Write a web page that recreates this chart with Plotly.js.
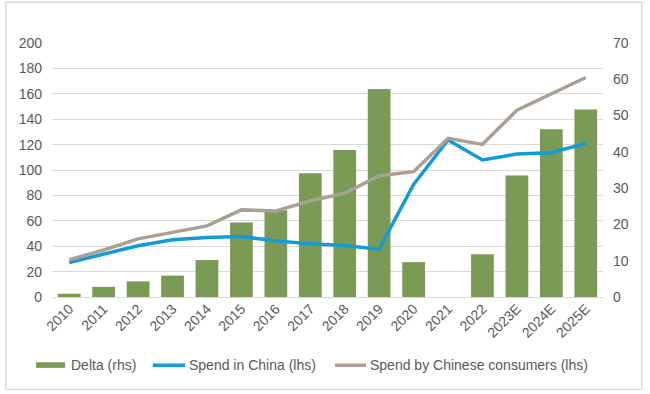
<!DOCTYPE html>
<html>
<head>
<meta charset="utf-8">
<script src="https://cdn.plot.ly/plotly-3.0.1.min.js"></script>
<style>html,body{margin:0;padding:0;background:#fff;}#chart{width:650px;height:394px;}</style>
</head>
<body>
<div id="chart"></div>
<script>
const years = ["2010","2011","2012","2013","2014","2015","2016","2017","2018","2019","2020","2021","2022","2023E","2024E","2025E"];
const delta = [0.9, 2.8, 4.3, 5.9, 10.2, 20.5, 23.9, 34.1, 40.5, 57.3, 9.6, 0, 11.8, 33.5, 46.2, 51.7];
const spendInChina = [27.2, 33.8, 40.3, 45.0, 46.9, 47.6, 44.2, 41.9, 40.5, 37.7, 88.7, 123.6, 107.9, 112.6, 113.6, 121.0];
const spendByChinese = [29.3, 37.0, 45.8, 50.8, 56.0, 68.6, 67.8, 75.7, 81.7, 95.5, 98.7, 124.9, 120.2, 147.1, 160.2, 172.8];
const seriesNames = ["Delta (rhs)", "Spend in China (lhs)", "Spend by Chinese consumers (lhs)"];
const colors = ["#7a9a56", "#129bd8", "#aaa095"];

const font = {family: "Liberation Sans, Arial, sans-serif", size: 14, color: "#595959"};

// bars on the base (right-hand) axis, lines on the overlaying (left-hand) axis so they draw on top
const data = [
  {type: "bar", name: seriesNames[0], x: years, y: delta, yaxis: "y",
   marker: {color: colors[0], line: {width: 0}}, showlegend: false},
  {type: "scatter", mode: "lines", name: seriesNames[1], x: years, y: spendInChina, yaxis: "y2",
   line: {color: colors[1], width: 3.5}, showlegend: false},
  {type: "scatter", mode: "lines", name: seriesNames[2], x: years, y: spendByChinese, yaxis: "y2",
   line: {color: colors[2], width: 3.5}, showlegend: false}
];

// custom legend (paper coords)
const legY = -0.2687;
const legendShapes = [
  {type: "rect", xref: "paper", yref: "paper", x0: -0.029, x1: 0.0236, y0: -0.279, y1: -0.257,
   fillcolor: colors[0], line: {width: 0}},
  {type: "line", xref: "paper", yref: "paper", x0: 0.1828, x1: 0.2414, y0: legY, y1: legY,
   line: {color: colors[1], width: 3.5}},
  {type: "line", xref: "paper", yref: "paper", x0: 0.5136, x1: 0.5699, y0: legY, y1: legY,
   line: {color: colors[2], width: 3.5}}
];
const legX = [0.0309, 0.245, 0.5735];
const legendAnnotations = seriesNames.map((n, i) => ({
  xref: "paper", yref: "paper", x: legX[i], y: legY, xanchor: "left", yanchor: "middle",
  text: n, showarrow: false, font: font
}));

const layout = {
  width: 650, height: 394, autosize: false,
  margin: {l: 52, r: 47, t: 43, b: 97},
  paper_bgcolor: "#fff", plot_bgcolor: "#fff",
  font: font,
  bargap: 0.34,
  showlegend: false,
  xaxis: {type: "category", tickangle: -45, showgrid: false, zeroline: false,
          showline: false, ticks: "", tickfont: font, automargin: false},
  yaxis: {range: [0, 70], dtick: 10, side: "right", showgrid: false,
          zeroline: false, showline: false, ticks: "", tickfont: font, automargin: false,
          ticklabelstandoff: 9},
  yaxis2: {range: [0, 200], dtick: 20, overlaying: "y", side: "left", showgrid: true,
           gridcolor: "#d9d9d9", gridwidth: 1, zeroline: true, zerolinecolor: "#d9d9d9",
           showline: false, ticks: "", tickfont: font, automargin: false,
           ticklabelstandoff: 9},
  shapes: [{type: "rect", xref: "paper", yref: "paper",
            x0: -0.0835, x1: 1.0705, y0: -0.364, y1: 1.16,
            line: {color: "#d9d9d9", width: 1.5}, fillcolor: "rgba(0,0,0,0)", layer: "below"}]
            .concat(legendShapes),
  annotations: legendAnnotations
};

Plotly.newPlot("chart", data, layout, {staticPlot: true, displayModeBar: false});
</script>
</body>
</html>
